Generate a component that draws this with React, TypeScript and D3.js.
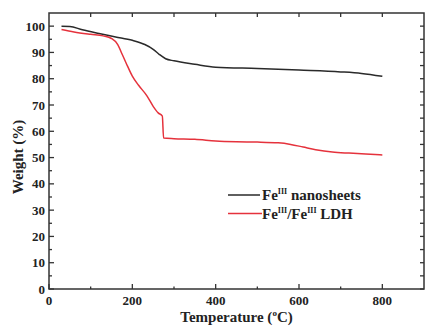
import React from "react";
import * as d3 from "d3";

const nanoT = [30, 50, 80, 120, 160, 200, 230, 250, 265, 280, 300, 350, 400, 500, 600, 700, 750, 800];
const nanoW = [100, 99.9, 98.6, 97.2, 95.9, 94.6, 93.0, 91.2, 89.2, 87.6, 86.8, 85.5, 84.4, 83.9, 83.3, 82.6, 82.0, 80.9];

const ldhT = [30, 60, 100, 130, 150, 165, 175, 185, 200, 215, 235, 250, 262, 272, 275, 300, 350, 400, 450, 500, 550, 580, 610, 640, 680, 720, 760, 800];
const ldhW = [98.7, 97.8, 96.9, 96.3, 95.3, 93, 89.5, 86, 81, 77.5, 73.5, 69.5, 67, 65.8, 57.4, 57.2, 57.0, 56.3, 56.0, 55.9, 55.6, 55.0, 54.0, 53.0, 52.1, 51.7, 51.4, 51.0];

const xMajor = [0, 200, 400, 600, 800];
const xMinor = [100, 300, 500, 700];
const xTop = [100, 200, 300, 400, 500, 600, 700, 800];
const yMajor = [0, 10, 20, 30, 40, 50, 60, 70, 80, 90, 100];
const yMinor = [5, 15, 25, 35, 45, 55, 65, 75, 85, 95];

const W = 425, H = 326;
const L = 49, R = 424, T = 13, B = 289;
const font = "Liberation Serif";
const axisColor = "#333";
const tx: React.CSSProperties = { fontFamily: font, fontWeight: "bold" };

export default function App() {
  const x = d3.scaleLinear().domain([0, 900]).range([L, R]);
  const y = d3.scaleLinear().domain([0, 105]).range([B, T]);
  const mk = (ts: number[], ws: number[]) =>
    d3.line<number>()
      .x((_, i) => x(ts[i]))
      .y((_, i) => y(ws[i]))
      .curve(d3.curveMonotoneX)(ts) as string;

  return (
    <svg width={W} height={H} style={{ position: "absolute", left: 0, top: 0, background: "#fff" }}>
      <rect x={0} y={0} width={W} height={H} fill="#fff" />
      <path d={mk(nanoT, nanoW)} fill="none" stroke="#2a2a2a" strokeWidth={1.5} />
      <path d={mk(ldhT, ldhW)} fill="none" stroke="#e5323c" strokeWidth={1.5} />

      <rect x={L} y={T} width={R - L} height={B - T} fill="none" stroke={axisColor} strokeWidth={1.5} />

      {xMajor.map((v) => (
        <line key={"xM" + v} x1={x(v)} x2={x(v)} y1={B} y2={B - 5} stroke={axisColor} strokeWidth={1.3} />
      ))}
      {xMinor.map((v) => (
        <line key={"xm" + v} x1={x(v)} x2={x(v)} y1={B} y2={B - 2.5} stroke={axisColor} strokeWidth={1.3} />
      ))}
      {xTop.map((v) => (
        <line key={"xt" + v} x1={x(v)} x2={x(v)} y1={T} y2={T + 4} stroke={axisColor} strokeWidth={1.3} />
      ))}
      {yMajor.map((v) => (
        <line key={"yM" + v} x1={L} x2={L + 5} y1={y(v)} y2={y(v)} stroke={axisColor} strokeWidth={1.3} />
      ))}
      {yMinor.map((v) => (
        <line key={"ym" + v} x1={L} x2={L + 3} y1={y(v)} y2={y(v)} stroke={axisColor} strokeWidth={1.3} />
      ))}
      {[...yMajor, ...yMinor].map((v) => (
        <line key={"yr" + v} x1={R} x2={R - 4} y1={y(v)} y2={y(v)} stroke={axisColor} strokeWidth={1.3} />
      ))}

      {xMajor.map((v) => (
        <text key={"xl" + v} x={x(v)} y={305} textAnchor="middle" fontSize={13} style={tx} fill="#222">
          {v}
        </text>
      ))}
      {yMajor.map((v) => (
        <text key={"yl" + v} x={L - 4} y={y(v)} dy="0.35em" textAnchor="end" fontSize={13} style={tx} fill="#222">
          {v}
        </text>
      ))}

      <text x={(L + R) / 2} y={322} textAnchor="middle" fontSize={15} style={tx} fill="#222">
        Temperature (<tspan fontSize={9} dy={-6}>o</tspan><tspan dy={6}>C)</tspan>
      </text>
      <text transform={`translate(23, ${(T + B) / 2 + 6}) rotate(-90)`} textAnchor="middle" fontSize={15} style={tx} fill="#222">
        Weight (%)
      </text>

      <line x1={228} x2={260} y1={195} y2={195} stroke="#2a2a2a" strokeWidth={1.5} />
      <text x={262} y={200} fontSize={15} style={tx} fill="#222">
        Fe<tspan fontSize={8} dy={-6}>III</tspan><tspan dy={6}> nanosheets</tspan>
      </text>
      <line x1={228} x2={262} y1={213.5} y2={213.5} stroke="#e5323c" strokeWidth={1.5} />
      <text x={262} y={219} fontSize={15} style={tx} fill="#222">
        Fe<tspan fontSize={8} dy={-6}>III</tspan><tspan dy={6}>/Fe</tspan><tspan fontSize={8} dy={-6}>III</tspan><tspan dy={6}> LDH</tspan>
      </text>
    </svg>
  );
}
